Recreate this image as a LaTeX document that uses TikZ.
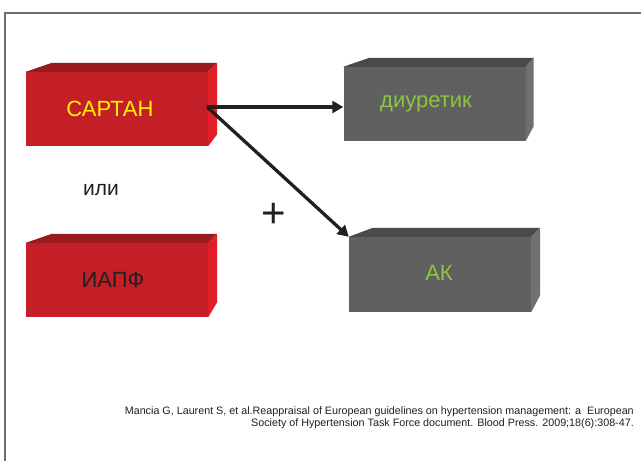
\documentclass[tikz,border=0pt]{standalone}
\usepackage{fontspec}
\setmainfont{Liberation Sans}
\usetikzlibrary{arrows.meta}
\definecolor{redfront}{HTML}{C41E26}
\definecolor{redtop}{HTML}{981B1E}
\definecolor{redside}{HTML}{E11E25}
\definecolor{grayfront}{HTML}{606060}
\definecolor{graytop}{HTML}{4A4A4A}
\definecolor{grayside}{HTML}{707070}
\definecolor{txtgreen}{HTML}{8CC63F}
\definecolor{txtyellow}{HTML}{FFF200}
\definecolor{txtdark}{HTML}{231F20}
\definecolor{framecol}{HTML}{6E6E6E}
\tikzset{
  boxface/.style={minimum width=182pt, minimum height=74pt, inner sep=0pt},
  redbox/.style={boxface, fill=redfront},
  graybox/.style={boxface, fill=grayfront},
  boxlabel/.style={inner sep=0pt, font=\fontsize{22}{24}\selectfont},
  conn/.style={draw=txtdark, line width=3.3pt, -{Triangle[length=11pt,width=12pt]}},
}
\newcommand{\boxsides}[6]{% node, topcolor, sidecolor, back-left dx, depth dx, side bottom rise
  \fill[#2] (#1.north west) -- ([xshift=#4pt,yshift=9pt]#1.north west) -- ([xshift=#5pt,yshift=9pt]#1.north east) -- (#1.north east) -- cycle;
  \fill[#3] (#1.north east) -- ([xshift=#5pt,yshift=9pt]#1.north east) -- ([xshift=#5pt,yshift=#6pt]#1.south east) -- (#1.south east) -- cycle;
}
\begin{document}
\begin{tikzpicture}[x=1pt,y=-1pt]
\useasboundingbox (0,0) rectangle (641,461);
\fill[white] (0,0) rectangle (641,461);
\draw[framecol, line width=1.2pt] (5,461) -- (5,13) -- (641,13);

\node[redbox] (sartan) at (117,109) {};
\boxsides{sartan}{redtop}{redside}{26}{9}{12}
\node[boxlabel, text=txtyellow] (sartantxt) at (110,109) {САРТАН};
\node[redbox] (iapf) at (117,280) {};
\boxsides{iapf}{redtop}{redside}{26}{9}{15}
\node[boxlabel, text=txtdark] (iapftxt) at (113,280) {ИАПФ};
\node[graybox] (diur) at (434.5,104) {};
\boxsides{diur}{graytop}{grayside}{26}{8}{15}
\node[boxlabel, text=txtgreen] (diurtxt) at (426,104) {диуретик};
\node[graybox, minimum height=75pt] (ak) at (440,274.5) {};
\boxsides{ak}{graytop}{grayside}{24}{9}{17}
\node[boxlabel, text=txtgreen] (aktxt) at (439,273) {АК};

\node[text=txtdark, font=\fontsize{21}{24}\selectfont] (ili) at (101,190) {или};
\node[text=txtdark, font=\fontsize{42}{44}\selectfont] (plus) at (274,215) {+};

\coordinate (src) at ([xshift=-1pt,yshift=2pt]sartan.east);
\draw[conn] (src) -- (diur.west |- src);
\draw[conn] (src) -- (ak.north west);

\node[anchor=east, align=right, text=txtdark, font=\fontsize{10.75}{12.4}\selectfont, inner sep=0pt] (cite) at (634,418)
  {Mancia G, Laurent S, et al.Reappraisal of European guidelines on hypertension management: a\ \ European\\
   Society of Hypertension Task Force document. Blood Press. 2009;18(6):308-47.};
\end{tikzpicture}
\end{document}
